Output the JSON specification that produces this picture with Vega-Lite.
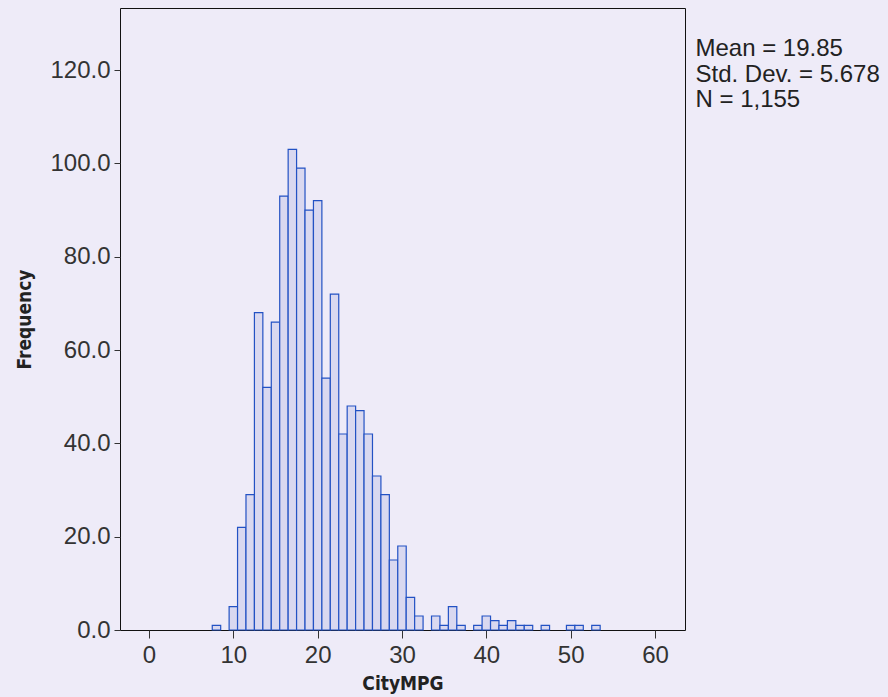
{
  "$schema": "https://vega.github.io/schema/vega-lite/v6.json",
  "width": 565,
  "height": 622,
  "autosize": {"type": "none"},
  "padding": {"left": 120, "top": 8, "right": 203, "bottom": 67},
  "background": "#eeebf8",
  "config": {
    "view": {"stroke": "#111111", "strokeWidth": 1, "fill": "#eeebf8"},
    "axis": {
      "domain": false,
      "grid": false,
      "labelFont": "Liberation Sans",
      "labelFontSize": 24,
      "labelColor": "#333333",
      "tickColor": "#333333",
      "titleFont": "DejaVu Sans Condensed",
      "titleFontWeight": "bold",
      "titleFontSize": 19,
      "titleColor": "#222222"
    }
  },
  "layer": [
    {
      "data": {
        "values": [
          {"CityMPG": 8, "Frequency": 1},
          {"CityMPG": 10, "Frequency": 5},
          {"CityMPG": 11, "Frequency": 22},
          {"CityMPG": 12, "Frequency": 29},
          {"CityMPG": 13, "Frequency": 68},
          {"CityMPG": 14, "Frequency": 52},
          {"CityMPG": 15, "Frequency": 66},
          {"CityMPG": 16, "Frequency": 93},
          {"CityMPG": 17, "Frequency": 103},
          {"CityMPG": 18, "Frequency": 99},
          {"CityMPG": 19, "Frequency": 90},
          {"CityMPG": 20, "Frequency": 92},
          {"CityMPG": 21, "Frequency": 54},
          {"CityMPG": 22, "Frequency": 72},
          {"CityMPG": 23, "Frequency": 42},
          {"CityMPG": 24, "Frequency": 48},
          {"CityMPG": 25, "Frequency": 47},
          {"CityMPG": 26, "Frequency": 42},
          {"CityMPG": 27, "Frequency": 33},
          {"CityMPG": 28, "Frequency": 29},
          {"CityMPG": 29, "Frequency": 15},
          {"CityMPG": 30, "Frequency": 18},
          {"CityMPG": 31, "Frequency": 7},
          {"CityMPG": 32, "Frequency": 3},
          {"CityMPG": 34, "Frequency": 3},
          {"CityMPG": 35, "Frequency": 1},
          {"CityMPG": 36, "Frequency": 5},
          {"CityMPG": 37, "Frequency": 1},
          {"CityMPG": 39, "Frequency": 1},
          {"CityMPG": 40, "Frequency": 3},
          {"CityMPG": 41, "Frequency": 2},
          {"CityMPG": 42, "Frequency": 1},
          {"CityMPG": 43, "Frequency": 2},
          {"CityMPG": 44, "Frequency": 1},
          {"CityMPG": 45, "Frequency": 1},
          {"CityMPG": 47, "Frequency": 1},
          {"CityMPG": 50, "Frequency": 1},
          {"CityMPG": 51, "Frequency": 1},
          {"CityMPG": 53, "Frequency": 1}
        ]
      },
      "transform": [
        {"bin": {"step": 1, "anchor": 0.5, "extent": [0.5, 60.5], "nice": false}, "field": "CityMPG", "as": ["bin_lo", "bin_hi"]}
      ],
      "mark": {"type": "bar", "fill": "#d9d8f0", "stroke": "#2352c4", "strokeWidth": 1.2},
      "encoding": {
        "x": {
          "field": "bin_lo",
          "type": "quantitative",
          "title": "CityMPG",
          "scale": {"domain": [-3.44, 63.56], "nice": false, "zero": false},
          "axis": {"values": [0, 10, 20, 30, 40, 50, 60], "tickSize": 8, "labelPadding": 5, "titlePadding": 7}
        },
        "x2": {"field": "bin_hi"},
        "y": {
          "field": "Frequency",
          "type": "quantitative",
          "title": "Frequency",
          "scale": {"domain": [0, 133.3], "nice": false},
          "axis": {"values": [0, 20, 40, 60, 80, 100, 120], "format": ".1f", "tickSize": 6, "labelPadding": 4, "titlePadding": 15}
        },
        "y2": {"datum": 0}
      }
    },
    {
      "data": {"values": [{}]},
      "mark": {
        "type": "text",
        "text": ["Mean = 19.85", "Std. Dev. = 5.678", "N = 1,155"],
        "align": "left",
        "baseline": "alphabetic",
        "lineHeight": 25.5,
        "font": "Liberation Sans",
        "fontSize": 24,
        "color": "#222222"
      },
      "encoding": {
        "x": {"datum": 64.8, "type": "quantitative"},
        "y": {"datum": 123.0, "type": "quantitative"}
      }
    }
  ]
}
